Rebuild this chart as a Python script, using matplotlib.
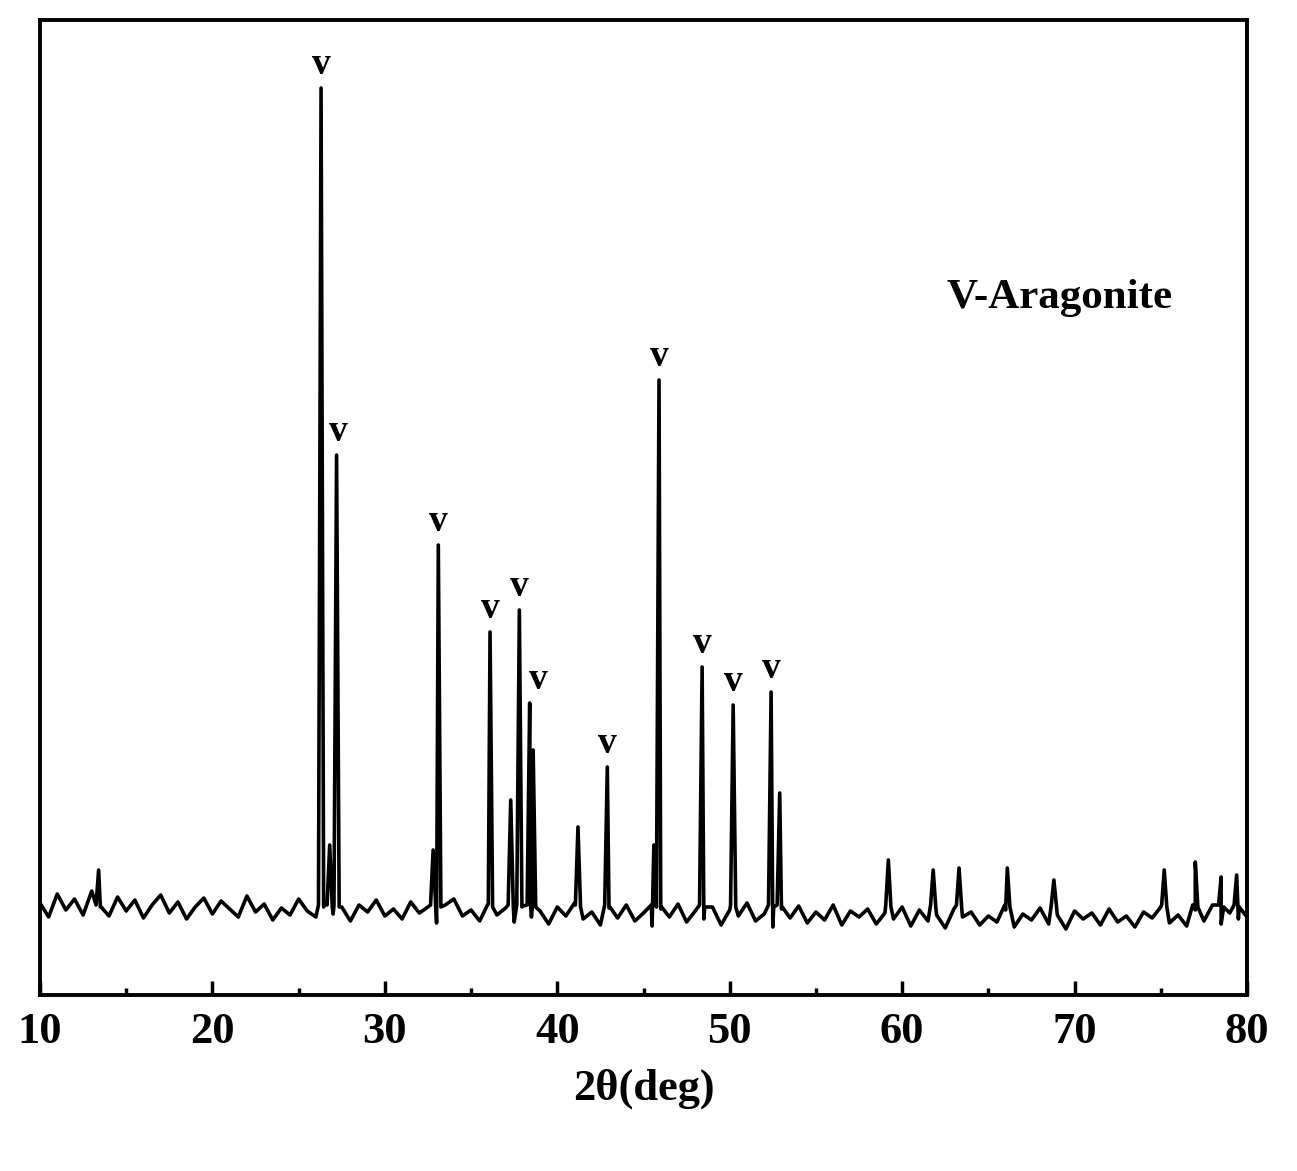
import numpy as np
import matplotlib.pyplot as plt

plt.rcParams['font.family'] = ['Liberation Serif', 'DejaVu Serif']
plt.rcParams['font.weight'] = 'bold'

# noisy background read every 0.5 deg (10 .. 80)
bg_x = np.arange(10, 80.01, 0.5)
bg_y = [92, 78, 101, 85, 96, 80, 104, 88, 79, 98, 84, 95, 77, 90, 100, 82,
        93, 76, 88, 97, 81, 94, 86, 78, 99, 83, 91, 75, 87, 80, 96, 84,
        78, 92, 81, 88, 74, 90, 83, 95, 79, 86, 76, 93, 82, 88, 72, 90,
        96, 79, 85, 74, 91, 80, 87, 73, 89, 78, 84, 71, 88, 79, 92, 76,
        83, 70, 87, 77, 90, 74, 82, 69, 86, 78, 91, 73, 84, 76, 88, 70,
        85, 79, 92, 74, 81, 68, 86, 77, 89, 72, 83, 75, 90, 70, 84, 78,
        86, 71, 82, 76, 88, 69, 85, 74, 80, 67, 86, 78, 83, 70, 79, 73,
        85, 68, 81, 75, 87, 71, 80, 66, 84, 76, 82, 70, 86, 73, 79, 68,
        83, 77, 88, 72, 80, 69, 85, 74, 90, 71, 82, 76, 78]

# peaks: position, height
pk_x = [13.4, 26.3, 26.8, 27.2, 32.8, 33.1, 36.1, 37.3, 37.8, 38.4, 38.6,
        41.2, 42.9, 45.6, 45.9, 48.4, 50.2, 52.4, 52.9, 59.2, 61.8, 63.3,
        66.1, 68.8, 75.2, 77.0, 78.5, 79.4]
pk_y = [125, 907, 150, 540, 145, 450, 363, 195, 385, 292, 245,
        168, 228, 150, 615, 328, 290, 303, 202, 135, 125, 127,
        127, 115, 125, 133, 118, 120]

# marked aragonite peaks
mk_x = [26.3, 27.3, 33.1, 36.1, 37.8, 38.9, 42.9, 45.9, 48.4, 50.2, 52.4]
mk_y = [907, 540, 450, 363, 385, 292, 228, 615, 328, 290, 303]

xs = list(bg_x)
ys = list(bg_y)
for p, h in zip(pk_x, pk_y):
    for dx, v in ((-0.15, 90), (0.0, h), (0.15, 88)):
        xs.append(p + dx)
        ys.append(v)
order = np.argsort(xs)
xs = np.array(xs)[order]
ys = np.array(ys)[order]

fig = plt.figure(figsize=(12.97, 11.71), dpi=100)
ax = fig.add_axes([40/1297, 1 - 995/1171, 1207/1297, 975/1171])
ax.plot(xs, ys, color='black', linewidth=2.6)
for x, y in zip(mk_x, mk_y):
    ax.text(x, y + 6, 'v', ha='center', va='bottom', fontsize=27, fontweight='bold')
ax.text(0.845, 0.705, 'V-Aragonite', transform=ax.transAxes, ha='center',
        fontsize=31, fontweight='bold')

ax.set_xlim(10, 80)
ax.set_ylim(0, 975)
ax.set_xticks(range(10, 81, 10))
ax.set_xticks(range(15, 80, 10), minor=True)
ax.tick_params(axis='x', which='major', direction='in', length=10, width=2.5,
               labelsize=32, pad=12)
ax.tick_params(axis='x', which='minor', direction='in', length=5, width=2.5)
ax.set_yticks([])
for s in ax.spines.values():
    s.set_linewidth(2.8)
ax.set_xlabel('2θ(deg)', fontsize=32, fontweight='bold', labelpad=12)

fig.savefig('out.png', dpi=100)
